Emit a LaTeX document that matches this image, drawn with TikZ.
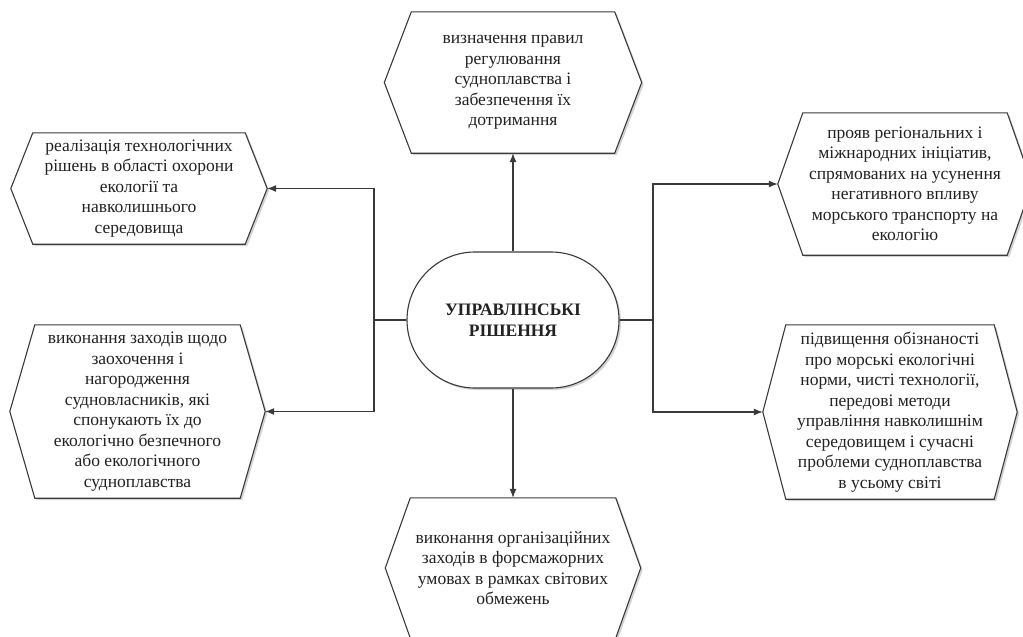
\documentclass[tikz,border=0pt]{standalone}
\usepackage{fontspec}
\setmainfont{Liberation Serif}
\usetikzlibrary{arrows.meta,shadows,backgrounds}
\definecolor{linec}{HTML}{3A3A3A}
\definecolor{txtc}{HTML}{222222}
\newcommand{\hexframe}[2]{%
  \draw[hexline] (#1.west) -- ([xshift=#2pt]#1.north west) -- ([xshift=-#2pt]#1.north east)
    -- (#1.east) -- ([xshift=-#2pt]#1.south east) -- ([xshift=#2pt]#1.south west) -- cycle;}
\tikzset{
  hexnode/.style={inner sep=0pt, align=center, text=txtc, font=\fontsize{17.5}{20.5}\selectfont},
  hexline/.style={draw=linec, line width=1.1pt, fill=white,
    drop shadow={shadow xshift=2pt, shadow yshift=-2pt, opacity=0.35, fill=gray}},
  centre/.style={draw=linec, line width=1.1pt, fill=white, rounded corners=68pt,
    minimum width=212pt, minimum height=136pt, inner sep=0pt, align=center, text=txtc,
    font=\fontsize{17.5}{20.5}\selectfont\bfseries,
    drop shadow={shadow xshift=2pt, shadow yshift=-2pt, opacity=0.35, fill=gray}},
  conn/.style={draw=linec, line width=1.1pt, -{Latex[length=9pt,width=7pt]}},
  plain/.style={draw=linec, line width=1.1pt}
}
\begin{document}
\begin{tikzpicture}[x=1pt,y=-1pt]
\useasboundingbox (0,0) rectangle (1023,637);
\node[hexnode, minimum width=257pt, minimum height=141pt] (T) at (513,82.5)
  {визначення правил\\регулювання\\судноплавства і\\забезпечення їх\\дотримання};
\node[hexnode, minimum width=256pt, minimum height=111pt] (LT) at (139,188.5)
  {реалізація технологічних\\рішень в області охорони\\екології та\\навколишнього\\середовища};
\node[hexnode, minimum width=255pt, minimum height=173pt] (LB) at (137.5,411.5)
  {виконання заходів щодо\\заохочення і\\нагородження\\судновласників, які\\спонукають їх до\\екологічно безпечного\\або екологічного\\судноплавства};
\node[hexnode, minimum width=254pt, minimum height=142pt] (RT) at (905,184)
  {прояв регіональних і\\міжнародних ініціатив,\\спрямованих на усунення\\негативного впливу\\морського транспорту на\\екологію};
\node[hexnode, minimum width=254pt, minimum height=174pt] (RB) at (890,412)
  {підвищення обізнаності\\про морські екологічні\\норми, чисті технології,\\передові методи\\управління навколишнім\\середовищем і сучасні\\проблеми судноплавства\\в усьому світі};
\node[hexnode, minimum width=255pt, minimum height=140pt] (B) at (513,568)
  {виконання організаційних\\заходів в форсмажорних\\умовах в рамках світових\\обмежень};
\begin{pgfonlayer}{background}
\hexframe{T}{27}
\hexframe{LT}{22}
\hexframe{LB}{25}
\hexframe{RT}{25}
\hexframe{RB}{23}
\hexframe{B}{25}
\end{pgfonlayer}
\node[centre] (C) at (513,320) {УПРАВЛІНСЬКІ\\РІШЕННЯ};
\coordinate (BL) at (374,320);
\coordinate (BR) at (653,320);
\draw[conn] (C.north) -- (T.south);
\draw[conn] (C.south) -- (B.north);
\draw[plain] (C.west) -- (BL);
\draw[plain] (C.east) -- (BR);
\draw[conn] (BL) |- (LT.east);
\draw[conn] (BL) |- (LB.east);
\draw[conn] (BR) |- (RT.west);
\draw[conn] (BR) |- (RB.west);
\end{tikzpicture}
\end{document}
